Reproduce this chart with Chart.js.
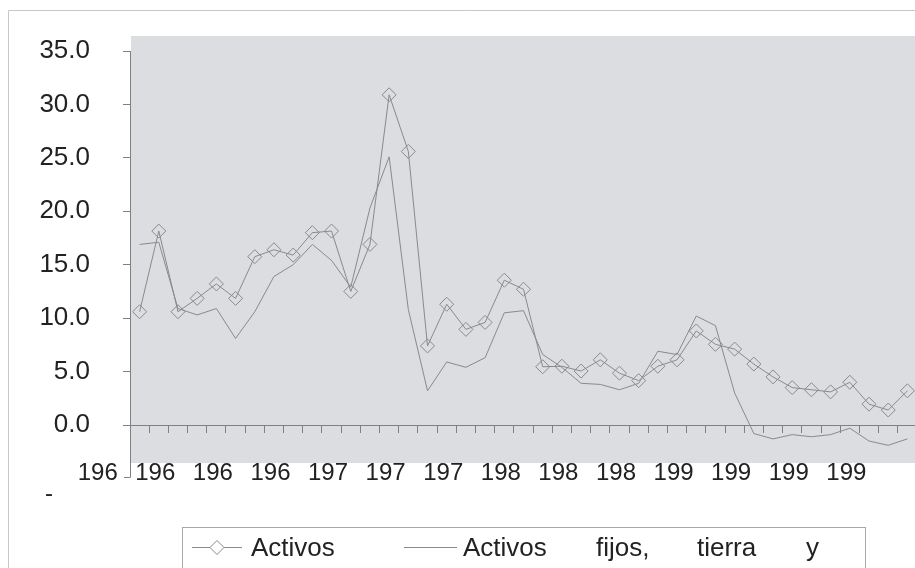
<!DOCTYPE html>
<html>
<head>
<meta charset="utf-8">
<script src="https://cdn.jsdelivr.net/npm/chart.js@4.4.0/dist/chart.umd.min.js"></script>
<style>
  html, body { margin: 0; padding: 0; background: #fff; overflow: hidden; }
  #wrap { width: 925px; height: 568px; }
</style>
</head>
<body>
<div id="wrap"><canvas id="chart" width="925" height="568"></canvas></div>
<script>
// Datos
const seriesNames = ['Activos', 'Activos fijos, tierra y'];

// label k sits on category 3k-2 (the first one falls left of the axis)
const tickLabels = ['196', '196', '196', '196', '197', '197', '197', '198', '198', '198', '199', '199', '199', '199'];
const yTicks = [0, 5, 10, 15, 20, 25, 30, 35];

const activos = [10.6, 18.15, 10.6, 11.85, 13.2, 11.85, 15.75, 16.4, 15.9, 18.0,
                 18.15, 12.5, 16.9, 30.9, 25.6, 7.4, 11.3, 8.95, 9.6, 13.55,
                 12.7, 5.45, 5.5, 5.05, 6.1, 4.85, 4.15, 5.5, 6.1, 8.8,
                 7.55, 7.1, 5.7, 4.5, 3.5, 3.3, 3.1, 4.0, 1.95, 1.4, 3.2];

const activosFijos = [16.9, 17.1, 10.9, 10.3, 10.9, 8.1, 10.6, 13.9, 15.0, 16.9,
                      15.4, 12.9, 20.3, 25.1, 10.8, 3.2, 5.9, 5.4, 6.3, 10.5,
                      10.7, 6.6, 5.4, 3.9, 3.8, 3.3, 3.9, 6.9, 6.6, 10.2,
                      9.3, 3.0, -0.8, -1.3, -0.9, -1.1, -0.9, -0.3, -1.5, -1.9, -1.3];

// 41 categories, only every third one carries a label
const categories = activos.map((_, i) => {
  const k = (i + 2) / 3;
  return Number.isInteger(k) && tickLabels[k] ? tickLabels[k] : '';
});

const FONT = "'Liberation Sans', Arial, sans-serif";
const GREY = '#808080';
const LINE = '#8a8a8a';

// fondo, marco, leyenda y detalles sueltos
const frame = {
  id: 'frame',
  beforeDraw(chart) {
    const { ctx, chartArea: a } = chart;
    ctx.save();
    ctx.fillStyle = '#fff';
    ctx.fillRect(0, 0, chart.width, chart.height);

    ctx.strokeStyle = '#c8c8c8';
    ctx.lineWidth = 1;
    ctx.beginPath();
    ctx.moveTo(8.5, chart.height);
    ctx.lineTo(8.5, 10.5);
    ctx.lineTo(chart.width, 10.5);
    ctx.stroke();

    ctx.fillStyle = '#dcdde0';
    ctx.fillRect(a.left + 1, a.top - 15, chart.width - a.left, a.bottom - a.top + 15);
    ctx.restore();
  },
  afterDraw(chart) {
    const { ctx, chartArea: a, scales: { x } } = chart;
    ctx.save();

    // y axis runs a bit past the plot, with a little stub
    ctx.strokeStyle = GREY;
    ctx.lineWidth = 1;
    ctx.beginPath();
    ctx.moveTo(130.5, a.bottom);
    ctx.lineTo(130.5, 477.5);
    ctx.lineTo(124, 477.5);
    ctx.stroke();

    // first x label, outside the axis
    ctx.fillStyle = '#222';
    ctx.font = '24px ' + FONT;
    ctx.textAlign = 'center';
    ctx.textBaseline = 'middle';
    ctx.fillText(tickLabels[0], x.getPixelForValue(-2) - 3.5, 473);
    ctx.textBaseline = 'alphabetic';
    ctx.fillText('-', 49, 501);

    // legend
    ctx.strokeStyle = '#a8a8a8';
    ctx.strokeRect(182.5, 527.5, 683, 80);

    const ds = chart.data.datasets;
    ctx.strokeStyle = LINE;
    ctx.beginPath();
    ctx.moveTo(192, 547.5);
    ctx.lineTo(242, 547.5);
    ctx.moveTo(404, 547.5);
    ctx.lineTo(457, 547.5);
    ctx.stroke();

    ctx.fillStyle = '#fff';
    ctx.beginPath();
    ctx.moveTo(210, 547.5);
    ctx.lineTo(217, 540.5);
    ctx.lineTo(224, 547.5);
    ctx.lineTo(217, 554.5);
    ctx.closePath();
    ctx.fill();
    ctx.stroke();

    ctx.fillStyle = '#222';
    ctx.font = '26px ' + FONT;
    ctx.textAlign = 'left';
    ctx.textBaseline = 'middle';
    ctx.fillText(ds[0].label, 251, 549);
    const words = ds[1].label.split(' ');
    const wx = [463, 596, 697, 806];
    words.forEach((w, i) => ctx.fillText(w, wx[i], 549));

    ctx.restore();
  }
};

new Chart(document.getElementById('chart'), {
  type: 'line',
  data: {
    labels: categories,
    datasets: [
      {
        label: seriesNames[0],
        data: activos,
        borderColor: LINE,
        borderWidth: 1,
        tension: 0,
        pointStyle: 'rectRot',
        pointRadius: 7,
        pointBorderWidth: 1,
        pointBorderColor: LINE,
        pointBackgroundColor: 'rgba(0,0,0,0)'
      },
      {
        label: seriesNames[1],
        data: activosFijos,
        borderColor: LINE,
        borderWidth: 1,
        tension: 0,
        pointRadius: 0
      }
    ]
  },
  options: {
    responsive: false,
    animation: false,
    layout: { padding: { top: 51, bottom: 105, left: 0, right: 3 } },
    plugins: {
      legend: { display: false },
      tooltip: { enabled: false }
    },
    scales: {
      x: {
        type: 'category',
        position: { y: 0 },
        offset: true,
        afterFit: s => { s.paddingLeft = 0; s.paddingRight = 0; },
        grid: { offset: true, drawOnChartArea: false, drawTicks: true, tickLength: 7, color: GREY },
        border: { display: true, color: GREY },
        ticks: {
          autoSkip: false, maxRotation: 0, minRotation: 0,
          labelOffset: -3.5, padding: 27, color: '#222',
          font: { family: FONT, size: 24 }
        }
      },
      y: {
        min: -3.556,
        max: 35,
        afterBuildTicks: s => { s.ticks = yTicks.map(v => ({ value: v })); },
        afterFit: s => { s.width = 130; },
        grid: { drawOnChartArea: false, tickLength: 7, color: GREY },
        border: { display: true, color: GREY },
        ticks: {
          padding: 33, color: '#222',
          font: { family: FONT, size: 26 },
          callback: v => Number(v).toFixed(1)
        }
      }
    }
  },
  plugins: [frame]
});
</script>
</body>
</html>
